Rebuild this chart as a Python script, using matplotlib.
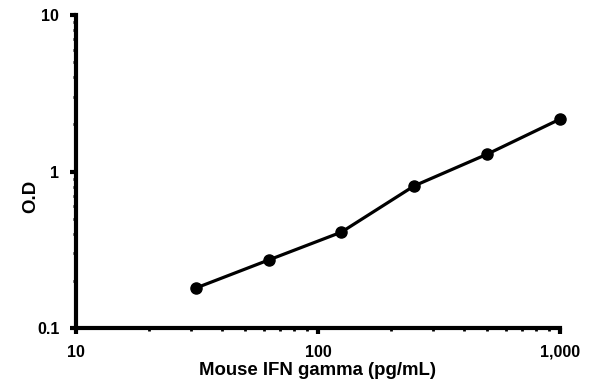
import matplotlib
matplotlib.use("Agg")
import matplotlib.pyplot as plt
from matplotlib.ticker import FixedLocator, LogLocator, NullFormatter

plt.rcParams['font.family'] = ['Liberation Sans', 'DejaVu Sans']

concentration = [31.25, 62.5, 125, 250, 500, 1000]
od = [0.18, 0.272, 0.41, 0.81, 1.29, 2.16]
x_ticks = [10, 100, 1000]
x_tick_labels = ["10", "100", "1,000"]
y_ticks = [0.1, 1, 10]
y_tick_labels = ["0.1", "1", "10"]

fig = plt.figure(figsize=(5.95, 3.91), dpi=100)
ax = fig.add_axes([0.1277, 0.161, 0.8133, 0.8006])
ax.plot(concentration, od, color='black', lw=2.3, marker='o', ms=8, clip_on=False)
ax.set_xscale('log')
ax.set_yscale('log')
ax.set_xlim(10, 1000)
ax.set_ylim(0.1, 10)
for s in ['top', 'right']:
    ax.spines[s].set_visible(False)
for s in ['left', 'bottom']:
    ax.spines[s].set_linewidth(3)
ax.xaxis.set_major_locator(FixedLocator(x_ticks))
ax.set_xticklabels(x_tick_labels)
ax.yaxis.set_major_locator(FixedLocator(y_ticks))
ax.set_yticklabels(y_tick_labels)
ax.xaxis.set_minor_locator(LogLocator(base=10, subs=range(2, 10)))
ax.yaxis.set_minor_locator(LogLocator(base=10, subs=range(2, 10)))
ax.xaxis.set_minor_formatter(NullFormatter())
ax.yaxis.set_minor_formatter(NullFormatter())
ax.tick_params(which='major', direction='out', length=4, width=3, labelsize=11.5)
ax.tick_params(axis='y', which='major', pad=8)
ax.tick_params(axis='x', which='major', pad=8)
ax.tick_params(which='minor', direction='out', length=2, width=2)
for lab in ax.get_xticklabels() + ax.get_yticklabels():
    lab.set_fontweight('bold')
ax.set_xlabel("Mouse IFN gamma (pg/mL)", fontsize=13.4, fontweight='bold')
ax.set_ylabel("O.D", fontsize=13.4, fontweight='bold')
ax.xaxis.set_label_coords(0.5, -0.11)
ax.yaxis.set_label_coords(-0.075, 0.42)
fig.savefig("out.png", dpi=100)
